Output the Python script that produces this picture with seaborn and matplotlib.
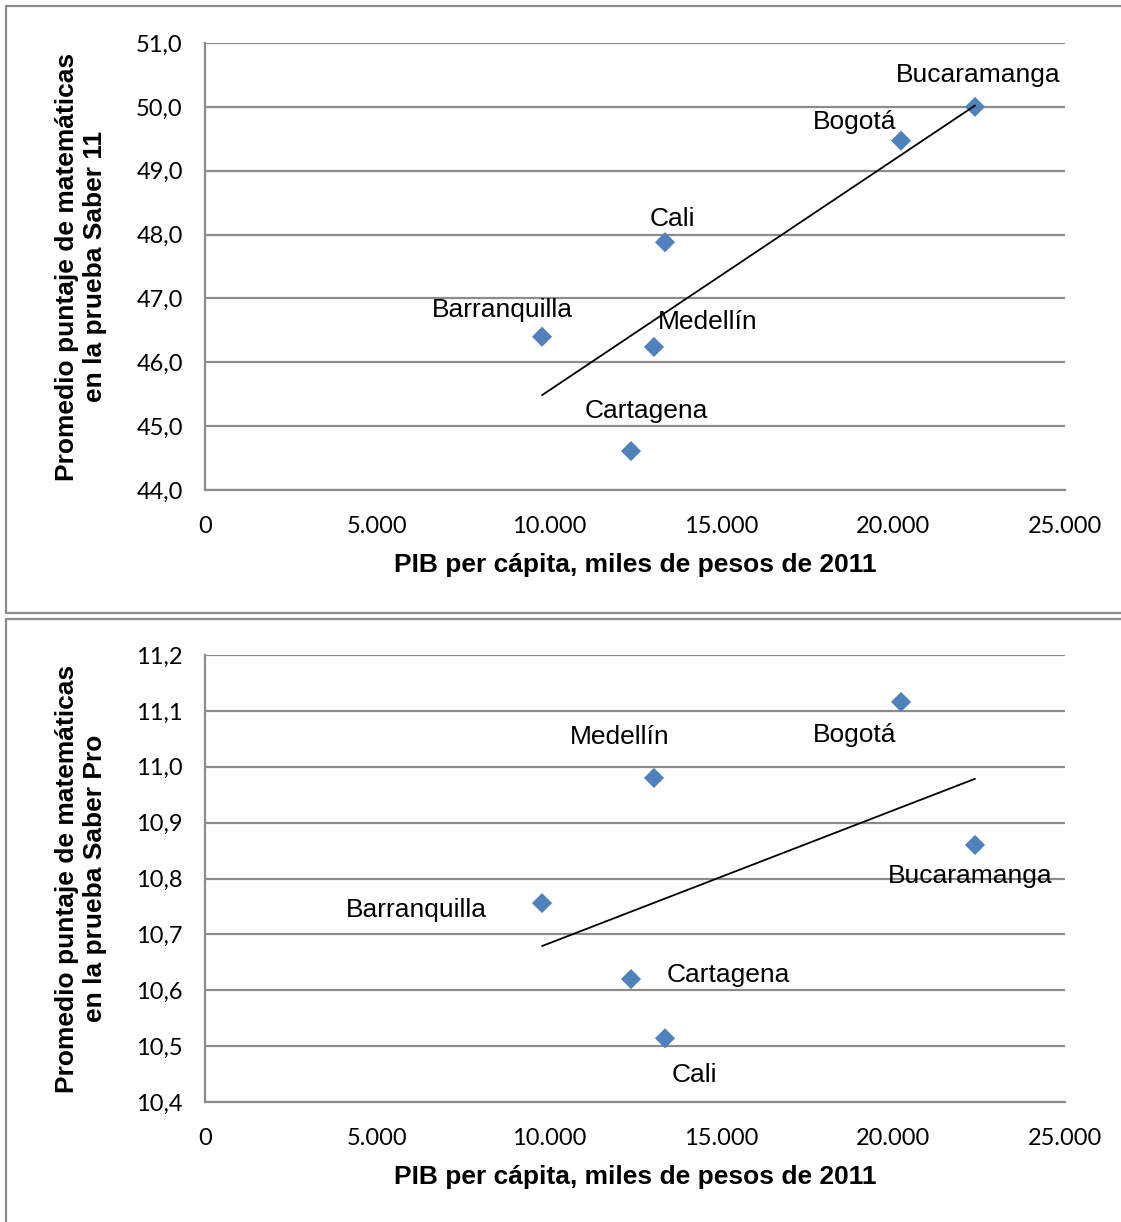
import os
import matplotlib
matplotlib.use("Agg")
import matplotlib.pyplot as plt
from matplotlib.lines import Line2D
from matplotlib import font_manager as fm
import seaborn as sns
import numpy as np

# ---- data ----
cities = ["Barranquilla", "Cartagena", "Medellín", "Cali", "Bogotá", "Bucaramanga"]
pib = [9797, 12384, 13052, 13372, 20233, 22384]
saber11 = [46.40, 44.61, 46.24, 47.88, 49.47, 50.00]
saberpro = [10.756, 10.620, 10.980, 10.514, 11.116, 10.860]

x_ticks = [0, 5000, 10000, 15000, 20000, 25000]
x_ticklabels = ["0", "5.000", "10.000", "15.000", "20.000", "25.000"]
y1_ticks = [44.0, 45.0, 46.0, 47.0, 48.0, 49.0, 50.0, 51.0]
y2_ticks = [10.4, 10.5, 10.6, 10.7, 10.8, 10.9, 11.0, 11.1, 11.2]

xlabel = "PIB per cápita, miles de pesos de 2011"
ylabel1 = "Promedio puntaje de matemáticas\nen la prueba Saber 11"
ylabel2 = "Promedio puntaje de matemáticas\nen la prueba Saber Pro"

# label offsets (pixels) for each city, per panel
off1 = {"Barranquilla": (-40, 27), "Cartagena": (15, 40), "Medellín": (54, 25),
        "Cali": (7, 23), "Bogotá": (-46, 19), "Bucaramanga": (3, 32)}
off2 = {"Barranquilla": (-126, -7), "Cartagena": (97, 4), "Medellín": (-34, 41),
        "Cali": (29, -37), "Bogotá": (-46, -33), "Bucaramanga": (-5, -31)}

sns.set_theme(style="white")
plt.rcParams["font.family"] = ["Liberation Sans", "DejaVu Sans"]
plt.rcParams["text.color"] = "black"
plt.rcParams["axes.labelcolor"] = "black"


def find_font(fname):
    for f in fm.findSystemFonts():
        if os.path.basename(f).lower() == fname.lower():
            return f
    return None


def fprops(fname, size, weight="normal"):
    p = find_font(fname)
    if p:
        return fm.FontProperties(fname=p, size=size)
    return fm.FontProperties(family="Liberation Sans", weight=weight, size=size)


BOLD = fprops("LiberationSans-Bold.ttf", 19, "bold")
REG = fprops("LiberationSans-Regular.ttf", 19)

W, H = 1121, 1222
fig = plt.figure(figsize=(W / 100, H / 100), dpi=100)
GRAY = "#8c8c8c"
BLUE = "#4F81BD"


def panel(ax, yvals, yticks, ylab, offsets):
    sns.scatterplot(x=pib, y=yvals, ax=ax, marker="D", s=105, color=BLUE,
                    edgecolor="none", linewidth=0, zorder=3, legend=False)
    sns.regplot(x=pib, y=yvals, ax=ax, scatter=False, ci=None, truncate=True,
                color="black", line_kws=dict(lw=1.3, zorder=4))
    for c, xv, yv in zip(cities, pib, yvals):
        dx, dy = offsets[c]
        ax.annotate(c, (xv, yv), xytext=(dx, dy), textcoords="offset pixels",
                    ha="center", va="center", fontproperties=REG, color="black")
    ax.set_xlim(x_ticks[0], x_ticks[-1])
    ax.set_ylim(yticks[0], yticks[-1])
    ax.set_xticks(x_ticks)
    ax.set_xticklabels(x_ticklabels, fontfamily="Lato", fontsize=17)
    ax.set_yticks(yticks)
    ax.set_yticklabels([f"{v:.1f}".replace(".", ",") for v in yticks],
                       fontfamily="Lato", fontsize=17)
    ax.yaxis.grid(True, color=GRAY, lw=1.6)
    ax.xaxis.grid(False)
    ax.set_axisbelow(True)
    for s in ["top", "right"]:
        ax.spines[s].set_visible(False)
    for s in ["left", "bottom"]:
        ax.spines[s].set_color(GRAY)
        ax.spines[s].set_linewidth(1.6)
    ax.tick_params(axis="both", direction="out", length=6, width=1.6,
                   color=GRAY, labelcolor="black")
    ax.tick_params(axis="x", pad=12.5)
    ax.tick_params(axis="y", pad=10)
    ax.set_xlabel(xlabel, fontproperties=BOLD, va="top", color="black")
    ax.xaxis.set_label_coords(0.5, -0.142)
    ax.set_ylabel(ylab, fontproperties=BOLD, linespacing=1.2, color="black")
    ax.yaxis.set_label_coords(-0.114, 0.5)
    ax.set_facecolor("white")


ax1 = fig.add_axes([205 / W, 1 - 490 / H, 860 / W, 447 / H])
ax2 = fig.add_axes([205 / W, 1 - 1102 / H, 860 / W, 447 / H])
panel(ax1, saber11, y1_ticks, ylabel1, off1)
panel(ax2, saberpro, y2_ticks, ylabel2, off2)


def fl(xs, ys):
    fig.add_artist(Line2D([x / W for x in xs], [1 - y / H for y in ys],
                          transform=fig.transFigure, color=GRAY, lw=1.6))

# panel borders
fl([6, W + 5], [6, 6])
fl([6, 6], [6, 613])
fl([6, W + 5], [613, 613])
fl([6, W + 5], [619, 619])
fl([6, 6], [619, H + 5])

fig.savefig("out.png", dpi=100)
